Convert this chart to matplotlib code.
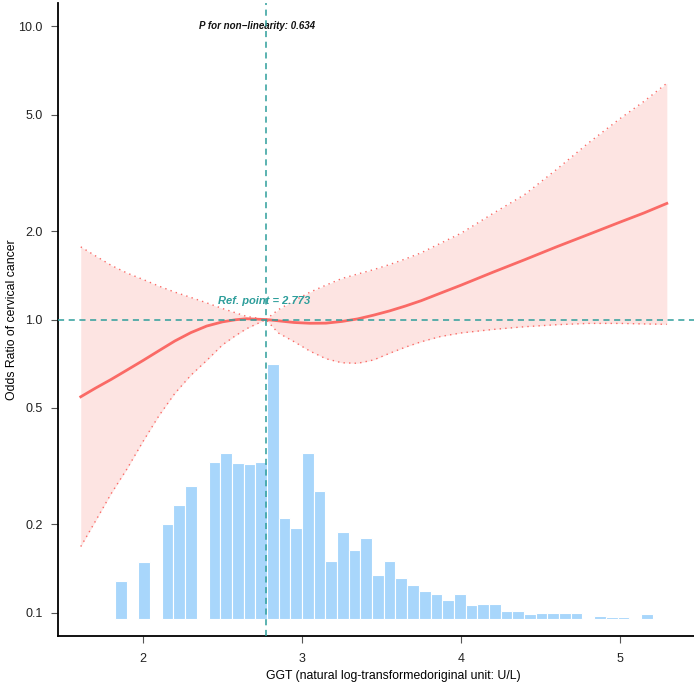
import matplotlib
matplotlib.use("Agg")
import matplotlib.pyplot as plt
import numpy as np

plt.rcParams['font.family'] = ['Liberation Sans', 'DejaVu Sans']

# spline fit (log GGT) with 95% CI
ggt = [1.608, 1.70, 1.80, 1.90, 2.00, 2.10, 2.20, 2.30, 2.40, 2.50, 2.58, 2.65, 2.773,
       2.85, 2.95, 3.05, 3.15, 3.25, 3.35, 3.45, 3.55, 3.65, 3.75, 3.87, 4.00,
       4.20, 4.40, 4.60, 4.80, 5.00, 5.15, 5.294]
odds = [0.545, 0.583, 0.625, 0.673, 0.725, 0.783, 0.845, 0.902, 0.950, 0.982, 0.998, 1.006, 1.000,
        0.990, 0.977, 0.971, 0.972, 0.985, 1.005, 1.035, 1.070, 1.112, 1.160, 1.230, 1.310,
        1.450, 1.600, 1.770, 1.950, 2.150, 2.310, 2.490]
upper = [1.77, 1.65, 1.53, 1.44, 1.37, 1.30, 1.24, 1.19, 1.14, 1.09, 1.055, 1.025, 1.000,
         1.08, 1.16, 1.24, 1.31, 1.38, 1.43, 1.48, 1.54, 1.61, 1.69, 1.82, 1.97,
         2.30, 2.67, 3.25, 4.00, 4.85, 5.55, 6.40]
lower = [0.168, 0.205, 0.255, 0.31, 0.384, 0.47, 0.56, 0.645, 0.725, 0.82, 0.88, 0.93, 1.000,
         0.90, 0.84, 0.78, 0.735, 0.712, 0.709, 0.728, 0.767, 0.805, 0.84, 0.875, 0.90,
         0.925, 0.945, 0.96, 0.97, 0.97, 0.966, 0.963]

# histogram of GGT (50 bins over data range)
hist_start = 1.603
bin_width = 0.0735
counts = [0, 0, 0, 30, 0, 45, 0, 75, 90, 105,
          0, 124, 131, 123, 122, 124, 201, 80, 72, 131,
          101, 46, 69, 55, 64, 35, 46, 33, 27, 22,
          20, 15, 20, 11, 12, 12, 7, 7, 4, 5,
          5, 5, 5, 1, 3, 2, 2, 1, 4, 0]

ref_point = 2.773
p_nonlin = 0.634
yticks = [0.1, 0.2, 0.5, 1.0, 2.0, 5.0, 10.0]
ytick_labels = ['0.1', '0.2', '0.5', '1.0', '2.0', '5.0', '10.0']
xticks = [2, 3, 4, 5]

line_col = '#FA6A66'
band_col = '#FDE4E2'
ref_col = '#2E9E9B'
bar_col = '#A8D6FB'

fig = plt.figure(figsize=(6.94, 6.90), dpi=100)
ax = fig.add_axes([0.0836, 0.0783, 0.9164, 0.9174])
ax2 = ax.twinx()

# histogram behind the curves
bin_left = hist_start + bin_width * np.arange(len(counts))
ax2.bar(bin_left, counts, width=bin_width, align='edge', color=bar_col,
        edgecolor='white', linewidth=0.8)
ax2.set_ylim(-13, 485)
ax2.axis('off')
ax.set_zorder(ax2.get_zorder() + 1)
ax.patch.set_visible(False)

ax.set_yscale('log')
ax.fill_between(ggt, lower, upper, color=band_col, linewidth=0, zorder=1)
ax.plot(ggt, upper, color=line_col, linestyle=(0, (1, 3)), linewidth=1.0, zorder=2)
ax.plot(ggt, lower, color=line_col, linestyle=(0, (1, 3)), linewidth=1.0, zorder=2)
ax.plot(ggt, odds, color=line_col, linewidth=2.0, zorder=3)

ax.axhline(1.0, color=ref_col, linestyle=(0, (4, 3)), linewidth=1.1, zorder=4)
ax.axvline(ref_point, color=ref_col, linestyle=(0, (4, 3)), linewidth=1.1, zorder=4)

ax.text(2.717, 10.0, f'P for non\u2212linearity: {p_nonlin}', ha='center', va='center',
        fontsize=7, fontweight='bold', fontstyle='italic', color='#111111')
ax.text(2.76, 1.16, f'Ref. point = {ref_point}', ha='center', va='center',
        fontsize=8, fontweight='bold', fontstyle='italic', color=ref_col)

ax.set_xlim(1.465, 5.465)
ax.set_ylim(0.0832, 12.03)
ax.set_yticks(yticks)
ax.set_yticklabels(ytick_labels)
ax.minorticks_off()
ax.set_xticks(xticks)
ax.tick_params(axis='both', labelsize=9, color='#555555', length=5, width=0.8,
               labelcolor='#222222')
ax.tick_params(axis='x', pad=7)
ax.tick_params(axis='y', pad=6)

for side in ['top', 'right']:
    ax.spines[side].set_visible(False)
for side in ['left', 'bottom']:
    ax.spines[side].set_linewidth(1.3)

fig.text(393 / 694, 1 - 676 / 690, 'GGT (natural log-transformedoriginal unit: U/L)',
         ha='center', va='center', fontsize=8.8)
fig.text(12 / 694, 1 - 320 / 690, 'Odds Ratio of cervical cancer', rotation=90,
         ha='center', va='center', fontsize=8.8)

plt.savefig('out.png', dpi=100)
plt.close()
